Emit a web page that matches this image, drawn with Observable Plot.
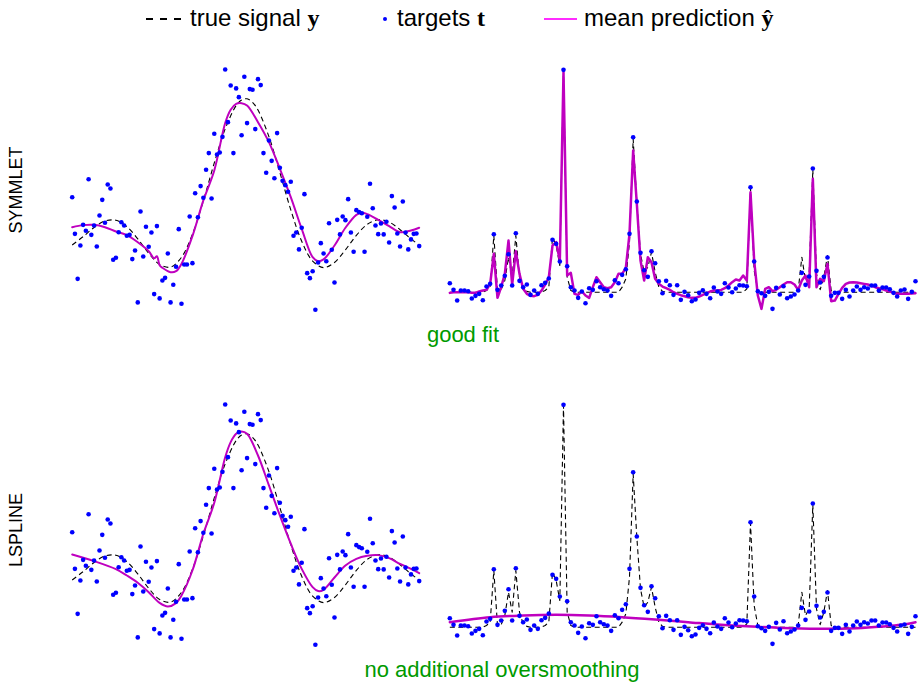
<!DOCTYPE html>
<html>
<head>
<meta charset="utf-8">
<script src="https://cdn.jsdelivr.net/npm/d3@7"></script>
<script src="https://cdn.jsdelivr.net/npm/@observablehq/plot@0.6"></script>
<style>
  html, body { margin: 0; padding: 0; background: #fff; }
  #fig { position: relative; width: 922px; height: 685px; overflow: hidden;
         font-family: "Liberation Sans", Arial, Helvetica, sans-serif; color: #000; }
  .abs { position: absolute; white-space: nowrap; line-height: 1; }
  .leg { font-size: 24px; top: 5.7px; }
  .m { font-family: "Liberation Serif", "DejaVu Serif", serif; font-weight: bold; }
  .cap { font-size: 22px; color: #009a00; text-align: center; width: 500px; }
  .row { font-size: 18px; width: 160px; text-align: center; transform: rotate(-90deg); }
  .swatch { position: absolute; }
</style>
</head>
<body>
<div id="fig"></div>
<script>
// ---- smooth test signal (sinc-shaped), 128 samples ----
const N = 128;

const leftTargets = [
  0.29, 0.026, -0.298, -0.058, 0.091, 0.048, 0.42, 0.019, 0.086, -0.065,
  0.158, 0.271, 0.106, 0.382, 0.353, -0.161, -0.146, 0.038, 0.11, 0.086,
  0.012, 0.019, -0.156, -0.094, -0.468, 0.187, -0.137, 0.077, -0.067, 0.036,
  -0.408, 0.082, -0.439, -0.31, -0.291, -0.115, -0.468, -0.341, -0.211, 0.06,
  -0.478, -0.195, -0.195, 0.151, -0.185, 0.319, 0.146, 0.37, 0.286, 0.488,
  0.608, 0.281, 0.747, 0.598, 0.612, 0.725, 1.21, 0.831, 1.095, 0.608,
  1.074, 1.011, 0.737, 1.158, 0.824, 1.069, 1.064, 0.781, 1.141, 1.098,
  0.608, 0.466, 0.699, 0.552, 0.427, 0.752, 0.502, 0.408, 0.377, 0.329,
  0.401, 0.012, 0.036, -0.086, 0.07, 0.312, -0.257, -0.293, -0.243, -0.521,
  -0.18, -0.041, -0.115, -0.171, 0.103, -0.089, -0.324, 0.127, 0.022, 0.151,
  0.125, 0.276, 0.036, -0.103, 0.197, 0.183, 0.175, -0.103, 0.149, 0.387,
  0.211, 0.086, 0.024, 0.101, 0.022, 0.113, -0.036, 0.298, 0.216, 0.029,
  -0.065, 0.259, 0.036, -0.086, -0.014, 0.026, 0.029, -0.062
];

const leftTrueIdx = [0, 4, 8, 12, 16, 20, 24, 28, 32, 36, 40, 44, 48, 52, 56, 60, 62, 64, 66, 68,
  72, 76, 80, 84, 88, 92, 96, 100, 104, 108, 112, 116, 120, 124, 127];
const leftTrueVal = [-0.054, 0.006, 0.072, 0.119, 0.124, 0.078, -0.010, -0.114, -0.195, -0.214,
  -0.143, 0.023, 0.264, 0.537, 0.783, 0.950, 0.991, 0.999, 0.974, 0.918,
  0.727, 0.468, 0.199, -0.027, -0.170, -0.217, -0.180, -0.089, 0.015, 0.095,
  0.128, 0.111, 0.056, -0.011, -0.054];

const leftSymIdx = [0, 4, 8, 12, 16, 20, 24, 28, 30, 31, 32, 33, 36, 38, 40, 44, 48, 52, 56, 58,
  60, 62, 64, 68, 72, 76, 80, 84, 88, 90, 92, 96, 100, 104, 106, 108, 112, 116, 120, 124, 127];
const leftSymVal = [0.074, 0.089, 0.091, 0.074, 0.043, 0.017, -0.034, -0.098, -0.150, -0.135,
  -0.200, -0.218, -0.250, -0.243, -0.190, 0.010, 0.267, 0.483, 0.825, 0.920,
  0.963, 0.968, 0.951, 0.831, 0.687, 0.495, 0.291, 0.062, -0.142, -0.171,
  -0.158, -0.058, 0.070, 0.163, 0.178, 0.168, 0.127, 0.082, 0.038, 0.050, 0.070];

const leftSplIdx = [0, 8, 16, 20, 24, 28, 32, 35, 38, 40, 44, 48, 52, 56, 58, 60, 62, 64, 68, 72,
  76, 80, 84, 88, 90, 92, 96, 100, 104, 108, 112, 116, 120, 124, 127];
const leftSplVal = [0.130, 0.082, 0.024, -0.022, -0.074, -0.142, -0.219, -0.245, -0.221, -0.166,
  0.014, 0.279, 0.502, 0.830, 0.939, 0.999, 1.016, 0.999, 0.843, 0.627,
  0.411, 0.207, 0.026, -0.106, -0.134, -0.125, -0.036, 0.050, 0.098, 0.120,
  0.125, 0.103, 0.062, 0.026, -0.005];

// ---- spiky test signal (bumps), 128 samples ----
const rightTargets = [
  0.216, 0.056, -0.2, 0.04, 0.04, 0.024, -0.152, -0.088, -0.04, -0.192,
  0.136, 0.2, 1.392, 0.056, 0.16, 0.392, 0.912, 0.16, 1.416, 0.272,
  0.12, 0.184, -0.064, 0.04, -0.04, 0.168, 0.224, 0.328, 1.256, 1.16,
  0.736, 5.336, 0.624, 0.12, 0.04, -0.136, 0.016, -0.264, 0.096, 0.056,
  0.264, 0.12, 0.072, 0.04, -0.088, 0.288, 0.216, 0.416, 0.552, 1.4,
  3.72, 2.176, 0.944, 0.528, 0.368, 0.984, 0.696, 0.264, -0.024, 0.272,
  0.168, -0.064, 0.168, -0.184, 0.008, -0.072, -0.216, -0.176, -0.016, 0.048,
  -0.04, -0.144, 0.112, 0.016, -0.04, 0.216, 0.112, 0, 0.088, 0.168,
  0.16, 0.144, 2.52, 0.736, 0.024, -0.024, -0.088, 0.008, -0.4, 0.104,
  -0.056, 0.144, -0.144, -0.104, -0.056, 0.04, 0.464, 0.176, 0.376, 2.968,
  0.512, 0.232, 0.368, 0.832, -0.088, -0.016, -0.016, -0.16, 0.056, -0.104,
  0.04, 0.136, 0.056, 0.12, 0.088, 0.16, 0.16, 0.04, 0.112, 0.112,
  0.072, -0.016, -0.104, 0.04, 0.064, -0.16, 0.008, 0.264
];

const rightTrue = [
  0, 0, 0, 0, 0, 0, 0, 0, 0, 0,
  0.04, 0.12, 1.36, 0.04, 0.06, 0.28, 0.84, 0.36, 1.36, 0.36,
  0.08, 0.02, 0, 0, 0, 0, 0.04, 0.12, 1.32, 1.12,
  0.64, 5.32, 0.36, 0.04, 0, 0, 0, 0, 0, 0,
  0, 0, 0, 0, 0, 0, 0, 0.12, 0.32, 1.2,
  3.68, 2.16, 0.92, 0.48, 0.6, 0.96, 0.48, 0.12, 0.02, 0,
  0, 0, 0, 0, 0, 0, 0, 0, 0, 0,
  0, 0, 0, 0, 0, 0, 0, 0, 0, 0,
  0, 0.08, 2.5, 0.52, 0.04, 0, 0, 0, 0, 0,
  0, 0, 0, 0, 0, 0.04, 0.84, 0.28, 0.44, 2.94,
  0.44, 0.06, 0.36, 0.88, 0.04, 0, 0, 0, 0, 0,
  0, 0, 0, 0, 0, 0, 0, 0, 0, 0,
  0, 0, 0, 0, 0, 0, 0, 0
];

const rightSym = [
  -0.016, 0, 0, 0, 0, 0, -0.016, -0.016, 0.016, 0.04,
  0.056, 0.2, 0.92, -0.136, 0.12, 0.44, 1.24, 0.184, 0.984, 0.44,
  0.08, -0.04, -0.088, -0.096, -0.064, 0.04, 0.184, 0.36, 1.12, 1.2,
  0.76, 5.28, 0.4, 0.464, -0.04, -0.064, 0.024, -0.08, -0.136, 0.12,
  0.36, 0.24, 0.12, 0.096, 0.12, 0.24, 0.44, 0.44, 0.584, 1.4,
  3.4, 2.12, 0.76, 0.28, 0.84, 0.72, 0.32, 0.2, 0.136, 0.096,
  0.056, 0, -0.04, -0.072, -0.096, -0.12, -0.136, -0.136, -0.104, -0.064,
  -0.024, 0.016, 0.04, 0.04, 0.056, 0.096, 0.16, 0.24, 0.304, 0.28,
  0.4, 0.28, 2.4, 0.76, -0.08, -0.4, 0.08, 0.12, 0.024, 0.056,
  0.12, 0.184, 0.24, 0.24, 0.184, 0.056, 0.28, 0.4, 0.12, 2.72,
  0.12, 0.32, 0.264, 0.68, -0.216, -0.2, -0.04, 0.104, 0.2, 0.232,
  0.24, 0.232, 0.216, 0.2, 0.184, 0.152, 0.12, 0.096, 0.072, 0.04,
  0.016, -0.016, -0.04, -0.04, -0.04, -0.04, -0.032, -0.024
];

const rightSplIdx = [0, 11, 20, 29, 38, 47, 56, 65, 74, 84, 93, 102, 111, 118, 123, 127];
const rightSplVal = [0.12, 0.24, 0.28, 0.296, 0.28, 0.24, 0.184, 0.12, 0.056, 0.008,
  -0.024, -0.04, -0.024, 0.016, 0.056, 0.12];

const rowLabels = ["SYMMLET", "LSPLINE"];
const captions = ["good fit", "no additional oversmoothing"];

// ---- drawing ----
const fig = document.getElementById("fig");
const MAGENTA = "#bf00bf";
const BLUE = "#0000ff";

const pairs = (xs, ys) => xs.map((x, i) => ({x, y: ys[i]}));
const series = (ys) => ys.map((y, i) => ({x: i, y}));

function panel({left, top, width, height, xRange, yDomain, yRange, truth, truthCurve, pred, predCurve, predWidth, targets}) {
  const chart = Plot.plot({
    width, height,
    marginTop: 0, marginRight: 0, marginBottom: 0, marginLeft: 0,
    style: {background: "transparent", overflow: "visible"},
    x: {domain: [0, N - 1], range: xRange, axis: null},
    y: {domain: yDomain, range: yRange, axis: null},
    marks: [
      Plot.line(truth, {x: "x", y: "y", stroke: "#000", strokeWidth: 1.1,
        strokeDasharray: "5,3.5", strokeLinecap: "butt", curve: truthCurve}),
      Plot.line(pred, {x: "x", y: "y", stroke: MAGENTA, strokeWidth: predWidth, curve: predCurve}),
      Plot.dot(series(targets), {x: "x", y: "y", r: 2.3, fill: BLUE, stroke: "none"})
    ]
  });
  chart.style.position = "absolute";
  chart.style.left = left + "px";
  chart.style.top = top + "px";
  fig.appendChild(chart);
}

const leftCfg = {left: 60, width: 370, height: 260, xRange: [11.7, 358.7],
  yDomain: [-0.55, 1.25], yRange: [253.3, 3.5], targets: leftTargets,
  truth: pairs(leftTrueIdx, leftTrueVal), truthCurve: "catmull-rom", predCurve: "catmull-rom", predWidth: 2};
const rightCfg = {left: 440, width: 482, height: 260, xRange: [9.33, 475],
  yDomain: [-0.6, 5.5], yRange: [256.7, 2.5], targets: rightTargets,
  truth: series(rightTrue), truthCurve: "linear", predWidth: 2.5};

panel({...leftCfg, top: 60, pred: pairs(leftSymIdx, leftSymVal)});
panel({...rightCfg, top: 60, pred: series(rightSym), predCurve: "linear"});
panel({...leftCfg, top: 395, pred: pairs(leftSplIdx, leftSplVal)});
panel({...rightCfg, top: 395, pred: pairs(rightSplIdx, rightSplVal), predCurve: "catmull-rom"});

// ---- HTML text: legend, row labels, captions ----
function add(html, cls, css) {
  const el = document.createElement("div");
  el.className = "abs " + cls;
  el.innerHTML = html;
  Object.assign(el.style, css);
  fig.appendChild(el);
  return el;
}

// legend swatches
add("", "swatch", {left: "146px", top: "18px", width: "36px", height: "1.6px",
  background: "repeating-linear-gradient(90deg, #000 0 7.3px, transparent 7.3px 14px)"});
add("", "swatch", {left: "383px", top: "16.5px", width: "4.4px", height: "4.4px",
  borderRadius: "50%", background: BLUE});
add("", "swatch", {left: "544px", top: "18px", width: "33px", height: "2.4px", background: "#ff2cff"});

// legend labels
add('true signal <span class="m">y</span>', "leg", {left: "190px"});
add('targets <span class="m">t</span>', "leg", {left: "397px"});
add('mean prediction <span class="m">ŷ</span>', "leg", {left: "584px"});

// row labels (rotated), centred on each row
add(rowLabels[0], "row", {left: (16 - 80) + "px", top: (190 - 9) + "px"});
add(rowLabels[1], "row", {left: (16 - 80) + "px", top: (530 - 9) + "px"});

// captions under each row
add(captions[0], "cap", {left: (463 - 250) + "px", top: "324.4px"});
add(captions[1], "cap", {left: (502 - 250) + "px", top: "659.4px"});
</script>
</body>
</html>
